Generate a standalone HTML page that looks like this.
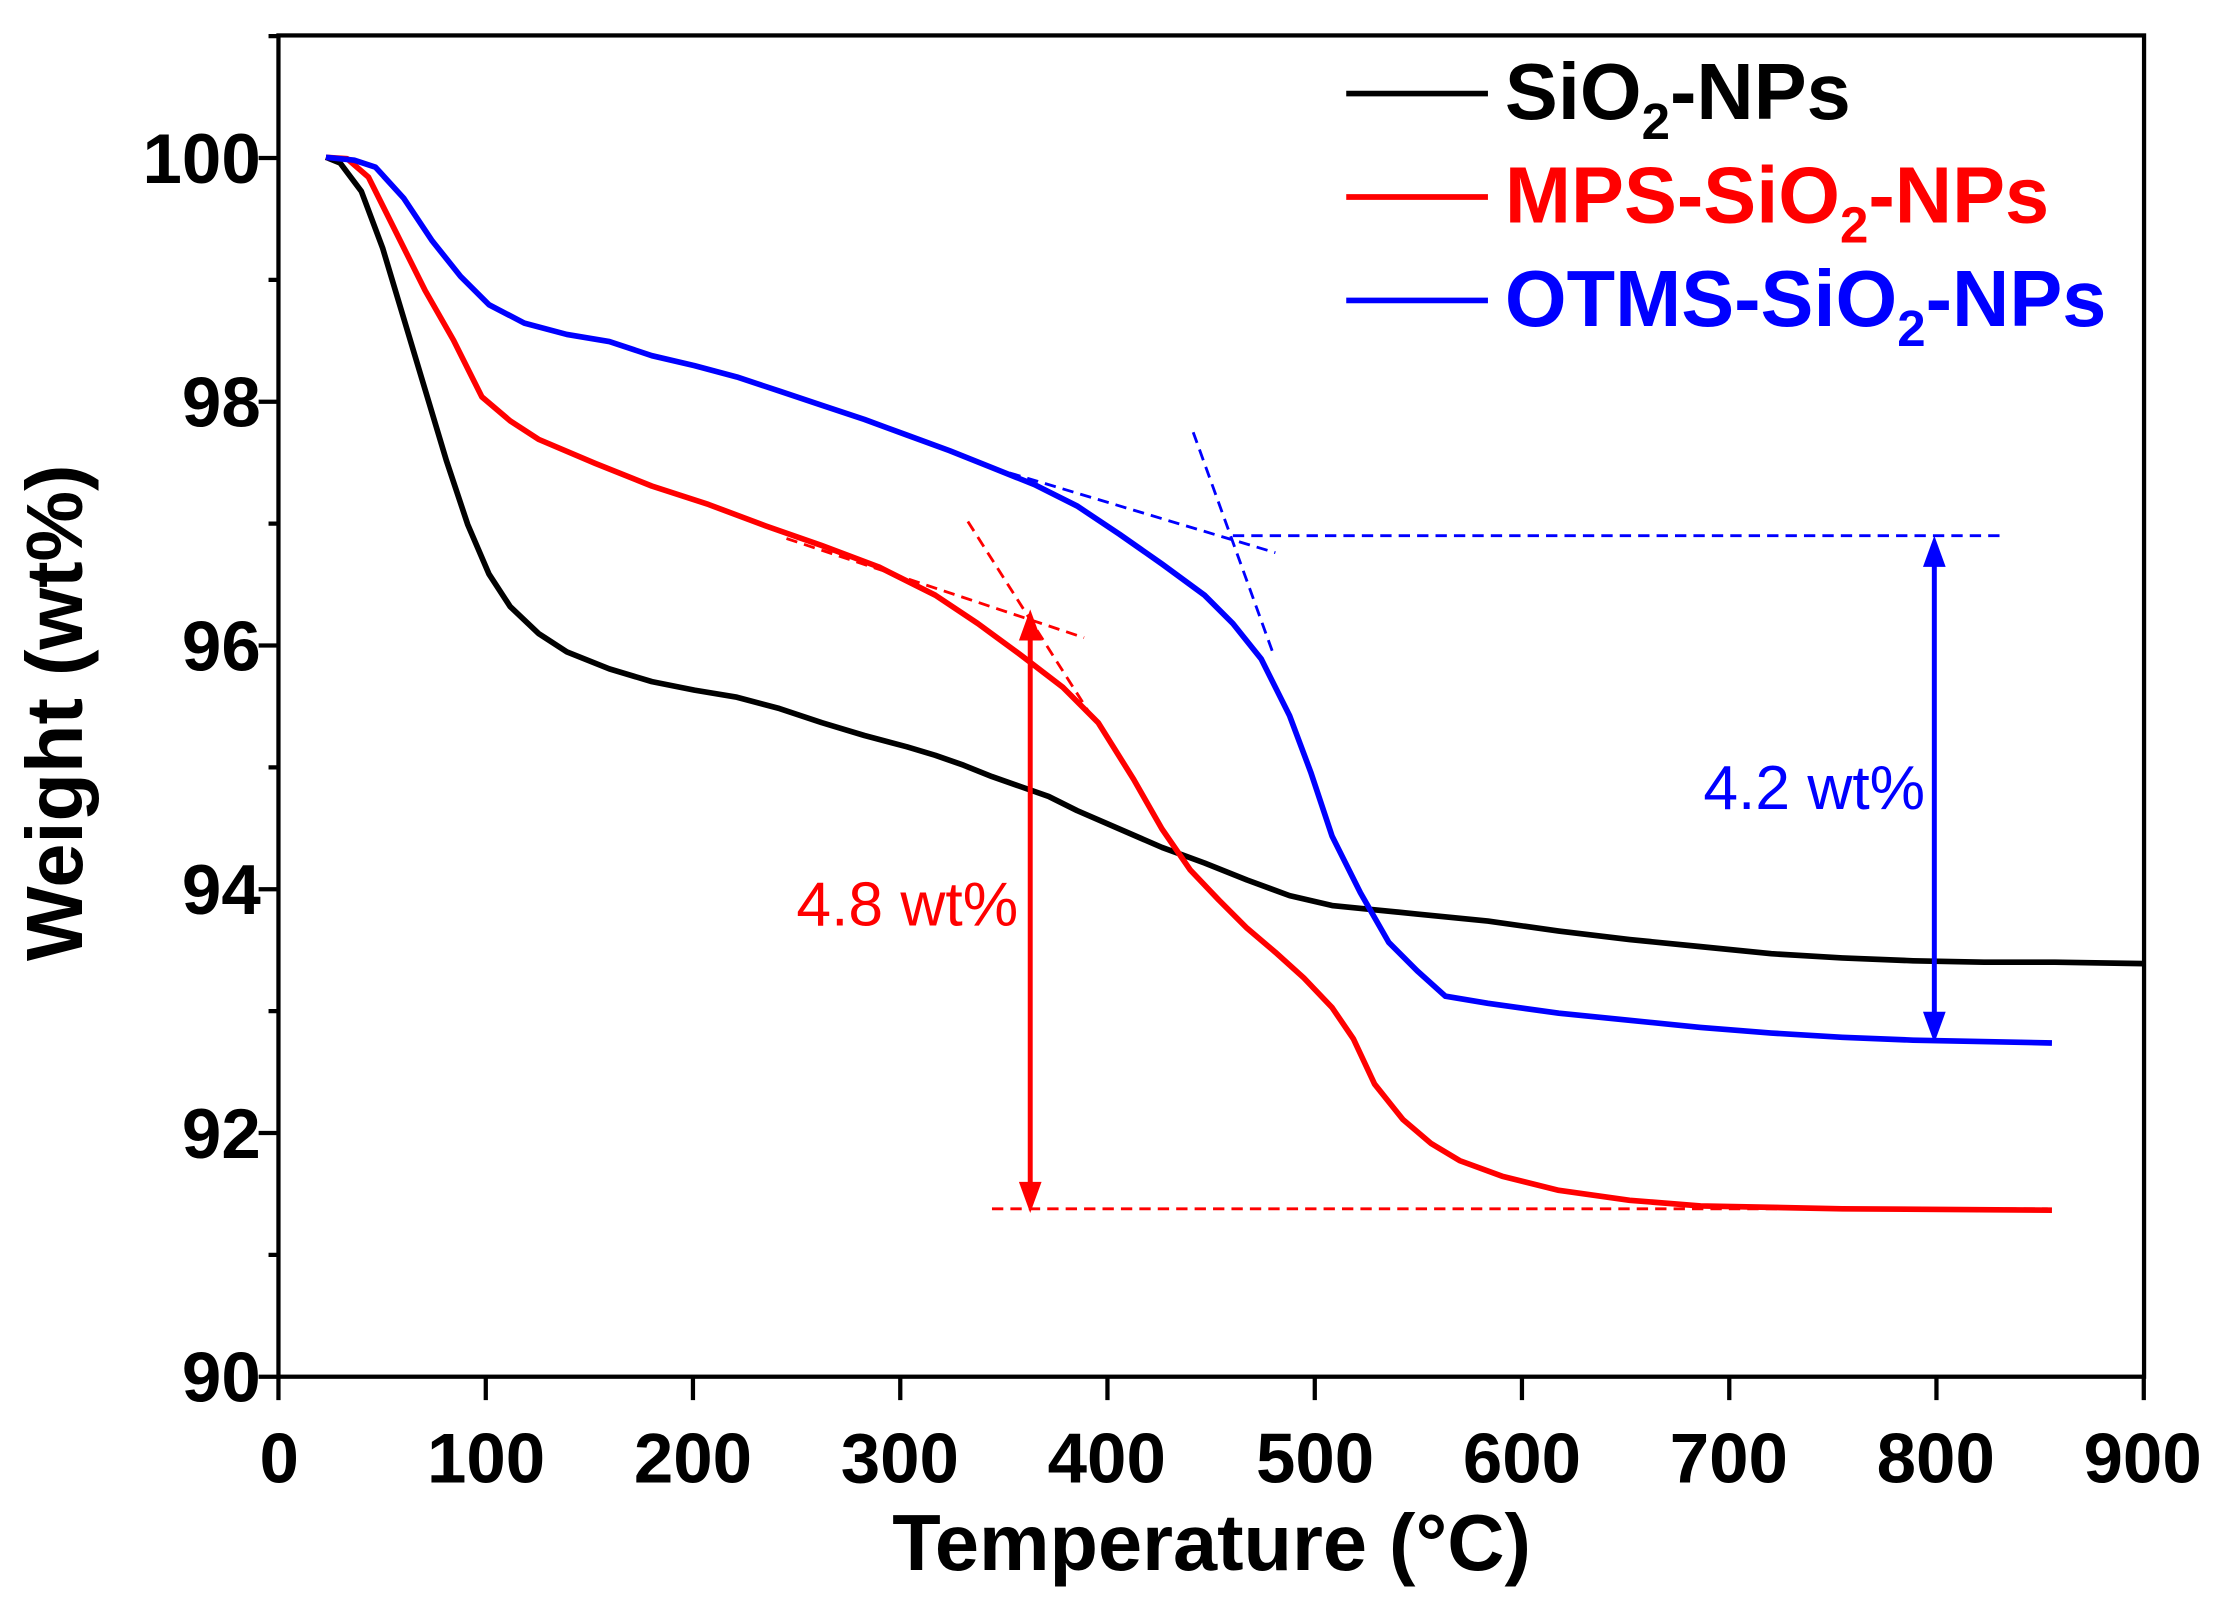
<!DOCTYPE html>
<html><head><meta charset="utf-8"><style>html,body{margin:0;padding:0;background:#fff}svg{display:block}</style></head>
<body>
<svg width="2222" height="1606" viewBox="0 0 1568 1133.3" xmlns="http://www.w3.org/2000/svg" font-family="Liberation Sans, Arial, sans-serif">
<rect width="1568" height="1134" fill="#fff"/>
<g stroke="#000" stroke-width="3" fill="none">
<rect x="196.5" y="25" width="1316.5" height="946.5"/>
<path d="M196.5 971v17M342.8 971v17M489 971v17M635.3 971v17M781.5 971v17M927.8 971v17M1074 971v17M1220.3 971v17M1366.5 971v17M1512.8 971v17"/>
<path d="M196.5 111.5h-14M196.5 283.5h-14M196.5 455.5h-14M196.5 627.5h-14M196.5 799.5h-14M196.5 971.5h-14"/>
<path d="M196.5 197.5h-7M196.5 369.5h-7M196.5 541.5h-7M196.5 713.5h-7M196.5 885.5h-7M196.5 25.5h-7"/>
</g>
<g font-size="50" font-weight="bold" text-anchor="middle" fill="#000">
<text x="197" y="1046">0</text><text x="343" y="1046">100</text><text x="489" y="1046">200</text><text x="635" y="1046">300</text><text x="781" y="1046">400</text><text x="928" y="1046">500</text><text x="1074" y="1046">600</text><text x="1220" y="1046">700</text><text x="1366" y="1046">800</text><text x="1512" y="1046">900</text>
</g>
<g font-size="50" font-weight="bold" text-anchor="end" fill="#000">
<text x="184" y="129">100</text><text x="184" y="301">98</text><text x="184" y="473">96</text><text x="184" y="645">94</text><text x="184" y="817">92</text><text x="184" y="989">90</text>
</g>
<text x="855" y="1108" font-size="56" font-weight="bold" text-anchor="middle">Temperature (°C)</text>
<text transform="translate(58,503) rotate(-90)" font-size="56" font-weight="bold" text-anchor="middle">Weight (wt%)</text>
<g fill="none" stroke-width="4" stroke-linejoin="round">
<polyline stroke="#000" points="230,111 240,115 255,135 270,175 285,225 300,275 315,325 330,370 345,405 360,428 380,447 400,460 430,472 460,481 490,487 520,492 550,500 580,510 610,519 640,527 660,533 680,540 700,548 720,555 740,562 760,572 790,585 820,598 850,609 880,621 910,632 940,639 970,642 1000,645 1050,650 1100,657 1150,663 1200,668 1250,673 1300,676 1350,678 1400,679 1450,679 1513,680"/>
<polyline stroke="#f00" points="230,111 245,112 260,125 280,165 300,205 320,240 340,280 360,297 380,310 420,327 460,343 500,356 540,371 580,385 620,400 660,420 690,440 720,462 750,485 775,510 800,550 820,585 840,614 860,635 880,655 900,672 920,690 940,711 955,733 970,765 990,790 1010,807 1030,819 1060,830 1100,840 1150,847 1200,851 1300,853 1448,854"/>
<polyline stroke="#00f" points="230,111 250,113 265,118 285,140 305,170 325,195 345,215 370,228 400,236 430,241 460,251 490,258 520,266 550,276 580,286 610,296 640,307 670,318 700,330 730,342 760,357 790,377 820,398 850,420 870,440 890,465 910,505 925,545 940,590 960,630 980,665 1000,685 1020,703 1050,708 1100,715 1150,720 1200,725 1250,729 1300,732 1350,734 1448,736"/>
</g>
<g fill="none" stroke-width="2" stroke-dasharray="8,5">
<path stroke="#00f" d="M870 378H1415M700 330L900 390M842 305L898 460"/>
<path stroke="#f00" d="M700 853H1445M555 380L765 450M683 368L770 505"/>
</g>
<g stroke-width="3.5">
<line x1="1365" y1="392" x2="1365" y2="722" stroke="#00f"/>
<polygon points="1365,378 1357,400 1373,400" fill="#00f"/>
<polygon points="1365,736 1357,714 1373,714" fill="#00f"/>
<line x1="727" y1="444" x2="727" y2="842" stroke="#f00"/>
<polygon points="727,430 719,452 735,452" fill="#f00"/>
<polygon points="727,856 719,834 735,834" fill="#f00"/>
</g>
<text x="1202" y="571" font-size="44" fill="#00f">4.2 wt%</text>
<text x="562" y="653" font-size="44" fill="#f00">4.8 wt%</text>
<g stroke-width="4">
<line x1="950" y1="66" x2="1050" y2="66" stroke="#000"/>
<line x1="950" y1="139" x2="1050" y2="139" stroke="#f00"/>
<line x1="950" y1="212" x2="1050" y2="212" stroke="#00f"/>
</g>
<g font-size="56" font-weight="bold">
<text x="1062" y="84" fill="#000">SiO<tspan font-size="36" dy="14">2</tspan><tspan dy="-14">-NPs</tspan></text>
<text x="1062" y="157" fill="#f00">MPS-SiO<tspan font-size="36" dy="14">2</tspan><tspan dy="-14">-NPs</tspan></text>
<text x="1062" y="230" fill="#00f">OTMS-SiO<tspan font-size="36" dy="14">2</tspan><tspan dy="-14">-NPs</tspan></text>
</g>
</svg>
</body></html>
